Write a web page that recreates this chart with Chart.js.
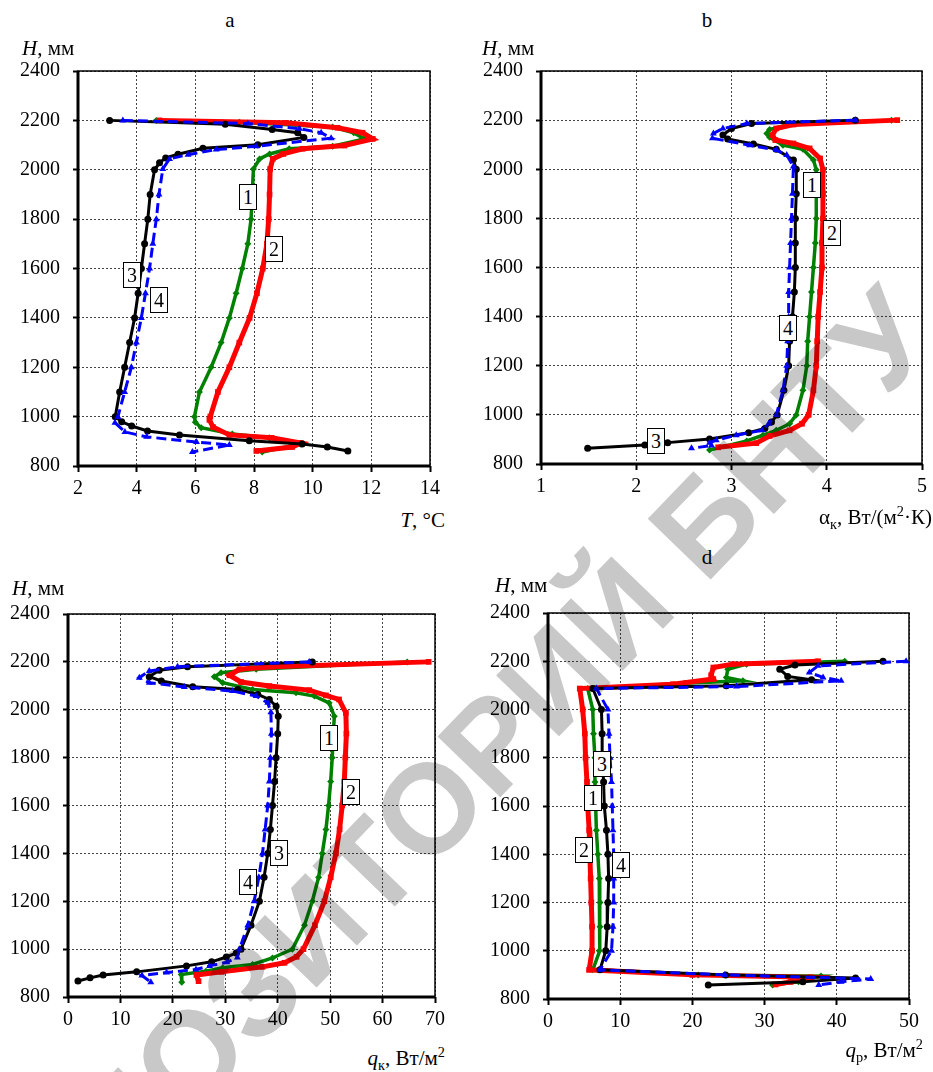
<!DOCTYPE html>
<html>
<head>
<meta charset="utf-8">
<script src="https://cdn.jsdelivr.net/npm/chart.js@4.4.1/dist/chart.umd.min.js"></script>
<style>
  body { margin: 0; background: #fff; width: 933px; height: 1072px; position: relative; overflow: hidden;
         font-family: 'Liberation Serif', 'DejaVu Serif', serif; color: #000; }
  canvas.cv { position: absolute; }
  .t { position: absolute; font-size: 21px; white-space: nowrap; line-height: 1; }
  .c { transform: translate(-50%, -50%); }
  .r { transform: translate(-100%, -50%); }
  .l { transform: translate(0, -50%); }
  .t sub, .t sup { font-size: 0.68em; line-height: 0; }
  .box { position: absolute; box-sizing: border-box; width: 18px; height: 26px; margin: -13px 0 0 -9px;
         background: #fff; border: 1px solid #000; font-size: 20px; line-height: 24px; text-align: center; z-index: 5; }
  #wm { position: absolute; left: 0; top: 0; pointer-events: none; mix-blend-mode: multiply; z-index: 10; }
</style>
</head>
<body>

<canvas id="chA" class="cv" width="445" height="460" style="left:0;top:46px"></canvas>
<canvas id="chB" class="cv" width="473" height="458" style="left:460px;top:46px"></canvas>
<canvas id="chC" class="cv" width="450" height="448" style="left:0;top:589px"></canvas>
<canvas id="chD" class="cv" width="473" height="451" style="left:460px;top:588px"></canvas>

<div class="t c" style="left:230px;top:20px">a</div>
<div class="t c" style="left:707px;top:20px">b</div>
<div class="t c" style="left:230px;top:557px">c</div>
<div class="t c" style="left:707px;top:557px">d</div>

<div class="t l" style="left:22px;top:48px"><i>H</i>, мм</div>
<div class="t l" style="left:482px;top:48px"><i>H</i>, мм</div>
<div class="t l" style="left:12px;top:588px"><i>H</i>, мм</div>
<div class="t l" style="left:495px;top:585px"><i>H</i>, мм</div>

<div class="t r" style="left:445px;top:520px"><i>T</i>, °C</div>
<div class="t r" style="left:932px;top:517px">α<sub>к</sub>, Вт/(м<sup>2</sup>·К)</div>
<div class="t r" style="left:445px;top:1058px"><i>q</i><sub>к</sub>, Вт/м<sup>2</sup></div>
<div class="t r" style="left:923px;top:1050px"><i>q</i><sub>р</sub>, Вт/м<sup>2</sup></div>

<!-- номера кривых -->
<div class="box" style="left:248px;top:197px">1</div>
<div class="box" style="left:274px;top:249px">2</div>
<div class="box" style="left:132px;top:275px">3</div>
<div class="box" style="left:159px;top:300px">4</div>

<div class="box" style="left:812px;top:185px">1</div>
<div class="box" style="left:832px;top:233px">2</div>
<div class="box" style="left:656px;top:441px">3</div>
<div class="box" style="left:788px;top:328px">4</div>

<div class="box" style="left:329px;top:738px">1</div>
<div class="box" style="left:351px;top:792px">2</div>
<div class="box" style="left:279px;top:853px">3</div>
<div class="box" style="left:248px;top:882px">4</div>

<div class="box" style="left:602px;top:764px">3</div>
<div class="box" style="left:593px;top:798px">1</div>
<div class="box" style="left:584px;top:850px">2</div>
<div class="box" style="left:621px;top:865px">4</div>

<canvas id="wm" width="933" height="1072"></canvas>

<script>
// ---- a: T, °C ----
const aH1 = [2200, 2192, 2173, 2150, 2125, 2095, 2085, 2064, 2044, 2003, 1900, 1800, 1700, 1600, 1500, 1400, 1300, 1200, 1100, 1000, 977, 955, 930, 914, 889, 857];
const aT1 = [4.67, 7.5, 10.68, 11.4, 11.76, 10.68, 9.2, 8.53, 8.19, 7.98, 7.94, 7.9, 7.79, 7.6, 7.39, 7.16, 6.88, 6.54, 6.14, 5.97, 6.0, 6.2, 7.26, 8.52, 9.6, 8.28];
const aH2 = [2200, 2190, 2170, 2150, 2125, 2098, 2085, 2064, 2044, 2003, 1900, 1800, 1700, 1600, 1500, 1400, 1300, 1200, 1100, 1000, 987, 958, 926, 914, 893, 877, 861];
const aT2 = [4.78, 9.09, 10.85, 11.7, 12.05, 11.08, 9.66, 9.0, 8.64, 8.55, 8.53, 8.5, 8.44, 8.3, 8.1, 7.85, 7.5, 7.16, 6.77, 6.51, 6.48, 6.6, 7.16, 8.6, 9.6, 9.3, 8.08];
const aH3 = [2200, 2184, 2163, 2150, 2131, 2101, 2087, 2063, 2048, 2028, 2000, 1900, 1800, 1700, 1600, 1500, 1400, 1300, 1200, 1100, 1000, 979, 962, 942, 926, 902, 889, 877, 861];
const aT3 = [3.08, 7.02, 8.62, 9.49, 9.70, 8.13, 6.26, 5.41, 4.99, 4.78, 4.61, 4.46, 4.38, 4.27, 4.16, 4.05, 3.93, 3.76, 3.59, 3.42, 3.27, 3.49, 3.83, 4.37, 5.46, 7.84, 9.64, 10.5, 11.2];
const aH4 = [2200, 2187, 2166, 2150, 2128, 2095, 2082, 2061, 2044, 2003, 1900, 1800, 1700, 1600, 1500, 1400, 1300, 1200, 1100, 1000, 975, 938, 918, 897, 885, 857];
const aT4 = [3.53, 7.79, 9.55, 10.29, 10.63, 8.07, 6.71, 5.75, 5.12, 4.89, 4.76, 4.67, 4.55, 4.44, 4.30, 4.16, 3.99, 3.82, 3.59, 3.36, 3.26, 3.6, 4.34, 6.04, 7.16, 5.9];

// ---- b: alpha_k ----
const bH1 = [2200, 2180, 2162, 2146, 2130, 2098, 2081, 2038, 1998, 1900, 1800, 1700, 1600, 1500, 1400, 1300, 1200, 1100, 1000, 964, 937, 917, 894, 857];
const bA1 = [4.68, 3.58, 3.40, 3.37, 3.40, 3.54, 3.75, 3.86, 3.89, 3.89, 3.89, 3.88, 3.86, 3.84, 3.82, 3.80, 3.79, 3.75, 3.68, 3.61, 3.47, 3.33, 3.16, 2.77];
const bH2 = [2200, 2182, 2166, 2139, 2119, 2105, 2085, 2044, 1998, 1900, 1800, 1700, 1600, 1500, 1400, 1300, 1200, 1100, 1000, 964, 937, 914, 885, 868];
const bA2 = [4.74, 3.65, 3.47, 3.43, 3.46, 3.65, 3.82, 3.93, 3.96, 3.96, 3.96, 3.95, 3.95, 3.93, 3.91, 3.90, 3.89, 3.86, 3.81, 3.74, 3.61, 3.40, 3.26, 2.86];
const bH3 = [2200, 2186, 2166, 2139, 2123, 2103, 2081, 2038, 2000, 1900, 1800, 1700, 1600, 1500, 1400, 1300, 1200, 1100, 1000, 971, 945, 927, 902, 887, 877, 864];
const bA3 = [4.30, 3.21, 3.00, 2.91, 2.96, 3.23, 3.47, 3.65, 3.68, 3.68, 3.67, 3.67, 3.67, 3.66, 3.64, 3.61, 3.60, 3.55, 3.48, 3.42, 3.35, 3.18, 2.77, 2.33, 2.09, 1.49];
const bH4 = [2200, 2186, 2166, 2146, 2126, 2098, 2078, 2058, 2011, 1900, 1800, 1700, 1600, 1500, 1400, 1300, 1200, 1100, 1000, 964, 937, 917, 897, 887, 875, 864];
const bA4 = [4.30, 3.16, 2.91, 2.81, 2.80, 3.19, 3.47, 3.58, 3.65, 3.64, 3.63, 3.62, 3.61, 3.60, 3.60, 3.59, 3.58, 3.54, 3.47, 3.39, 3.32, 3.05, 2.84, 2.77, 2.79, 2.58];

// ---- c: q_k ----
const cH1 = [2200, 2169, 2155, 2138, 2113, 2085, 2071, 2057, 2029, 1973, 1900, 1800, 1700, 1600, 1500, 1400, 1300, 1200, 1100, 1000, 963, 936, 922, 908, 894, 862];
const cQ1 = [64.7, 35.9, 29.2, 27.9, 29.5, 35.2, 43.5, 47.0, 49.8, 50.8, 50.6, 50.4, 50.1, 49.7, 49.2, 48.5, 47.8, 46.6, 45.1, 42.8, 39.0, 35.2, 29.5, 26.3, 21.6, 21.7];
const cH2 = [2200, 2180, 2169, 2144, 2116, 2099, 2082, 2060, 2043, 1987, 1900, 1800, 1700, 1600, 1500, 1400, 1300, 1200, 1100, 1000, 968, 943, 926, 905, 892, 866];
const cQ2 = [68.8, 39.0, 32.7, 30.8, 33.0, 38.4, 46.0, 49.2, 51.7, 53.0, 53.1, 52.9, 52.7, 52.3, 51.8, 51.1, 50.1, 48.9, 47.1, 44.9, 43.6, 41.3, 37.1, 29.3, 24.5, 24.9];
const cH3 = [2200, 2180, 2165, 2138, 2120, 2096, 2085, 2064, 2043, 2015, 1973, 1900, 1800, 1700, 1600, 1500, 1400, 1300, 1200, 1100, 1000, 984, 967, 947, 930, 905, 892, 880, 867];
const cQ3 = [46.6, 22.8, 17.4, 15.5, 17.8, 23.8, 32.4, 36.2, 38.4, 39.7, 40.1, 40.0, 39.7, 39.4, 39.0, 38.6, 38.1, 37.4, 36.5, 34.9, 33.0, 32.1, 30.2, 27.4, 22.6, 13.1, 6.7, 4.2, 1.9];
const cH4 = [2200, 2180, 2162, 2134, 2113, 2095, 2078, 2057, 2029, 1990, 1900, 1800, 1700, 1600, 1500, 1400, 1300, 1200, 1100, 1000, 965, 945, 930, 915, 902, 890, 862];
const cQ4 = [46.0, 20.9, 15.5, 13.6, 15.5, 22.2, 31.4, 35.9, 38.1, 38.7, 38.8, 38.6, 38.4, 38.1, 37.6, 37.1, 36.4, 35.5, 34.3, 32.7, 32.3, 30.3, 27.0, 24.4, 18.8, 14.1, 15.8];

// ---- d: q_p ----
const dH1 = [2200, 2188, 2167, 2133, 2119, 2109, 2087, 2000, 1900, 1800, 1700, 1600, 1500, 1400, 1300, 1200, 1100, 1000, 921, 900, 895, 871, 858];
const dQ1 = [41.1, 27.5, 24.9, 24.7, 27.0, 18.9, 5.5, 6.2, 6.3, 6.5, 6.5, 6.6, 6.7, 6.9, 7.1, 7.2, 7.2, 7.1, 6.2, 20.8, 37.8, 34.7, 31.1];
const dH2 = [2200, 2188, 2174, 2142, 2126, 2105, 2087, 2000, 1900, 1800, 1700, 1600, 1500, 1400, 1300, 1200, 1100, 1000, 921, 900, 890, 871, 860];
const dQ2 = [37.4, 25.6, 22.9, 22.6, 22.9, 17.3, 4.4, 4.8, 5.1, 5.2, 5.4, 5.5, 5.7, 5.8, 5.9, 6.0, 6.1, 6.1, 5.7, 20.0, 36.4, 33.6, 31.5];
const dH3 = [2200, 2184, 2167, 2137, 2123, 2098, 2087, 2000, 1900, 1800, 1700, 1600, 1500, 1400, 1300, 1200, 1100, 1000, 921, 900, 887, 871, 858];
const dQ3 = [46.4, 34.2, 32.1, 33.2, 36.5, 24.7, 6.2, 7.4, 7.5, 7.5, 7.7, 7.8, 8.1, 8.3, 8.4, 8.3, 8.2, 8.0, 7.2, 24.6, 42.6, 35.3, 22.2];
const dH4 = [2200, 2181, 2153, 2133, 2119, 2095, 2087, 2000, 1900, 1800, 1700, 1600, 1500, 1400, 1300, 1200, 1100, 1000, 921, 900, 883, 871, 858];
const dQ4 = [49.6, 37.4, 36.2, 38.1, 40.6, 26.1, 6.7, 8.3, 8.45, 8.6, 8.8, 8.9, 9.0, 9.1, 9.1, 9.1, 9.0, 8.8, 7.2, 24.5, 44.7, 40.6, 37.5];

const hTicks = [800, 1000, 1200, 1400, 1600, 1800, 2000, 2200, 2400];

Chart.defaults.font.family = "'Liberation Serif', 'DejaVu Serif', serif";
Chart.defaults.font.size = 20;
Chart.defaults.color = '#000';

// Rahmen: links/unten dick, oben/rechts duenn
const rahmen = {
  id: 'rahmen',
  beforeDatasetsDraw(chart) {
    const { ctx, chartArea: a } = chart;
    ctx.save();
    ctx.strokeStyle = '#000';
    ctx.lineWidth = 1.5;
    ctx.strokeRect(a.left, a.top, a.right - a.left, a.bottom - a.top);
    ctx.lineWidth = 3;
    ctx.beginPath();
    ctx.moveTo(a.left, a.top);
    ctx.lineTo(a.left, a.bottom);
    ctx.lineTo(a.right, a.bottom);
    ctx.stroke();
    ctx.restore();
  }
};

function punkte(xs, ys) {
  return xs.map((v, i) => ({ x: v, y: ys[i] }));
}

function serien(x1, y1, x2, y2, x3, y3, x4, y4) {
  // Reihenfolge: erste Serie liegt oben
  return [
    { data: punkte(x4, y4), borderColor: '#0000ff', backgroundColor: '#0000ff', borderWidth: 3,
      borderDash: [10, 5], pointStyle: 'triangle', pointRadius: 4 },
    { data: punkte(x3, y3), borderColor: '#000', backgroundColor: '#000', borderWidth: 3,
      pointStyle: 'circle', pointRadius: 3.5 },
    { data: punkte(x2, y2), borderColor: '#ff0000', backgroundColor: '#ff0000', borderWidth: 5,
      pointStyle: 'rect', pointRadius: 4 },
    { data: punkte(x1, y1), borderColor: '#008000', backgroundColor: '#008000', borderWidth: 3.5,
      pointStyle: 'rectRot', pointRadius: 3.5 }
  ];
}

function zeichne(id, datasets, xmin, xmax, xstep, yW, padRight) {
  const gitter = {
    color: '#444', lineWidth: 1, tickColor: '#000', tickWidth: 2, drawTicks: true
  };
  return new Chart(document.getElementById(id), {
    type: 'scatter',
    data: { datasets: datasets.map(d => Object.assign({ showLine: true, tension: 0, clip: false, pointBorderWidth: 0 }, d)) },
    options: {
      responsive: false,
      animation: false,
      layout: { padding: { top: 6, right: padRight, left: 0, bottom: 0 } },
      plugins: { legend: { display: false }, tooltip: { enabled: false } },
      scales: {
        x: {
          type: 'linear', min: xmin, max: xmax,
          ticks: { stepSize: xstep, padding: 5, maxRotation: 0, autoSkip: false, callback: v => String(v) },
          grid: Object.assign({ tickLength: 6 }, gitter),
          border: { display: false, dash: [2, 2] },
          afterFit: s => { s.height = 40; }
        },
        y: {
          type: 'linear', min: 800, max: 2400,
          afterBuildTicks: s => { s.ticks = hTicks.map(v => ({ value: v })); },
          ticks: { padding: 13, autoSkip: false, callback: v => String(v) },
          grid: Object.assign({ tickLength: 5 }, gitter),
          border: { display: false, dash: [2, 2] },
          afterFit: s => { s.width = yW; }
        }
      }
    },
    plugins: [rahmen]
  });
}

zeichne('chA', serien(aT1, aH1, aT2, aH2, aT3, aH3, aT4, aH4), 2, 14, 2, 78, 14);
zeichne('chB', serien(bA1, bH1, bA2, bH2, bA3, bH3, bA4, bH4), 1, 5, 1, 81, 11);
zeichne('chC', serien(cQ1, cH1, cQ2, cH2, cQ3, cH3, cQ4, cH4), 0, 70, 10, 68, 14);
zeichne('chD', serien(dQ1, dH1, dQ2, dH2, dQ3, dH3, dQ4, dH4), 0, 50, 10, 88, 24);

// Wasserzeichen
const wm = document.getElementById('wm').getContext('2d');
wm.save();
wm.translate(448, 801);
wm.rotate(-46 * Math.PI / 180);
wm.font = "bold 127px 'Liberation Sans', sans-serif";
wm.textAlign = 'center';
wm.textBaseline = 'middle';
wm.fillStyle = '#c8c8c8';
wm.fillText('РЕПОЗИТОРИЙ БНТУ', 0, 0);
wm.restore();
</script>
</body>
</html>
